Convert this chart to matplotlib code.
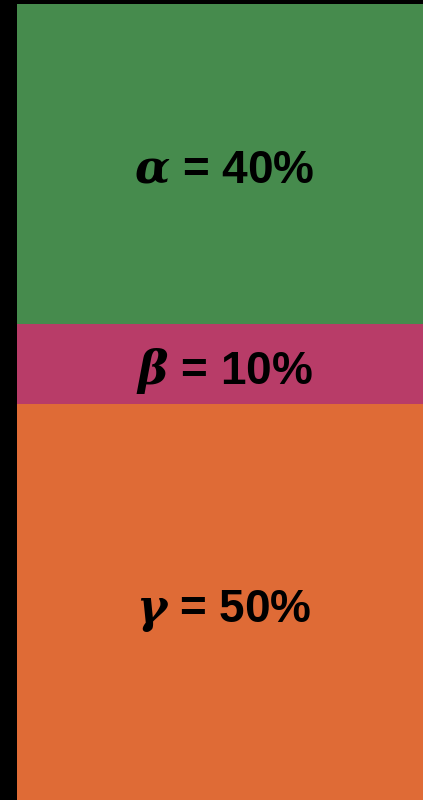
import matplotlib
matplotlib.use('Agg')
import matplotlib.pyplot as plt

# shares of the single stacked bar, top to bottom
names = ['\\alpha', '\\beta', '\\gamma']
shares = [40, 10, 50]
colors = ['#468B4D', '#B83C68', '#DF6B36']

plt.rcParams['font.family'] = ['Liberation Sans', 'DejaVu Sans']
plt.rcParams['mathtext.fontset'] = 'custom'
plt.rcParams['mathtext.it'] = 'DejaVu Serif:italic:bold'
plt.rcParams['mathtext.rm'] = 'Liberation Sans:bold'

fig = plt.figure(figsize=(4.23, 8), dpi=100, facecolor='black')
# bar runs from just under the top black strip and is cut at the bottom
ax = fig.add_axes([17 / 423, -4 / 800, 406 / 423, 1])

bottom = 0
for name, share, color in zip(names, shares, colors):
    ax.bar(0, share, bottom=bottom, width=1, color=color, linewidth=0)
    ax.text(0.01, bottom + share / 2 + 0.9, '$' + name + '$ = ' + str(share) + '%',
            ha='center', va='center', fontsize=33, fontweight='bold', color='black')
    bottom += share

ax.set_xlim(-0.5, 0.5)
ax.set_ylim(100, 0)
ax.axis('off')

fig.savefig('out.png', dpi=100, facecolor='black')
